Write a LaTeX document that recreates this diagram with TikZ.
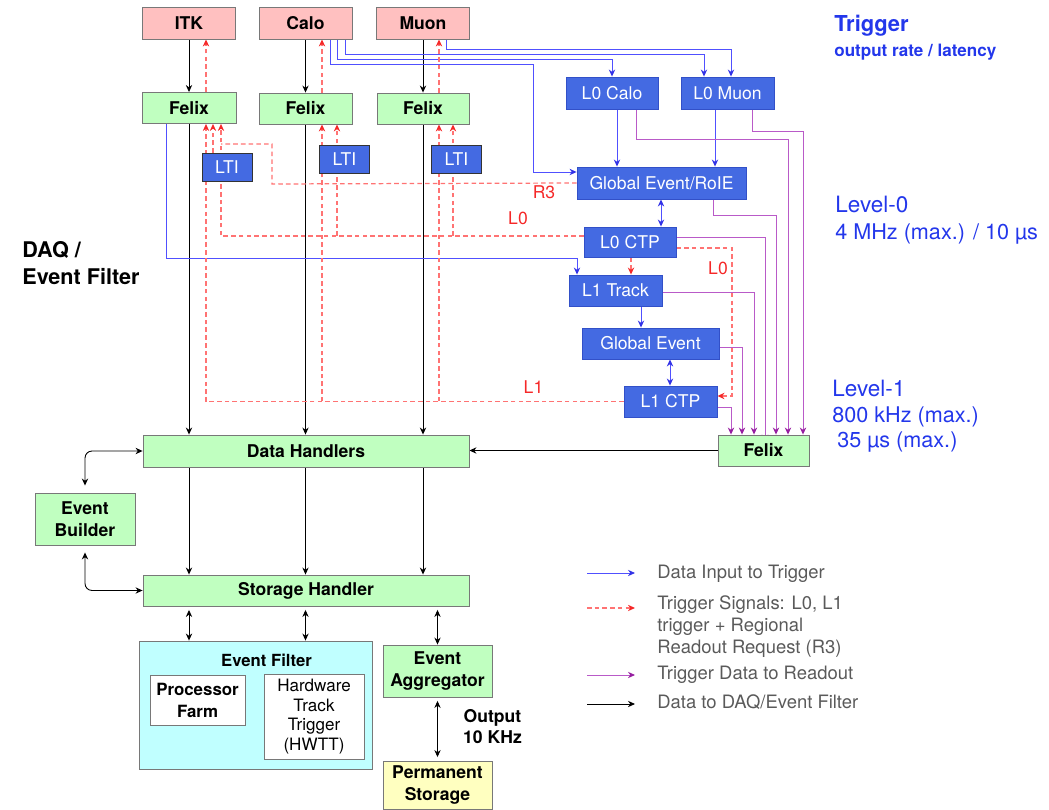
\documentclass[tikz,border=0pt]{standalone}
\usepackage{fontspec}
\setmainfont{TeX Gyre Heros}
\usetikzlibrary{arrows.meta,calc,backgrounds}
\definecolor{srcfill}{RGB}{255,192,192}
\definecolor{daqfill}{RGB}{192,255,192}
\definecolor{trigfill}{RGB}{68,106,226}
\definecolor{trigline}{RGB}{50,80,200}
\definecolor{filtfill}{RGB}{192,255,255}
\definecolor{storefill}{RGB}{255,255,192}
\definecolor{boxline}{RGB}{120,120,120}
\definecolor{datablue}{RGB}{80,80,255}
\definecolor{datatip}{RGB}{50,50,230}
\definecolor{sigred}{RGB}{255,115,115}
\definecolor{sigtip}{RGB}{245,40,40}
\definecolor{rdpurple}{RGB}{185,90,200}
\definecolor{rdtip}{RGB}{150,30,160}
\definecolor{lvlblue}{RGB}{35,55,235}
\definecolor{leggray}{RGB}{90,90,90}

\begin{document}
\begin{tikzpicture}[x=0.02cm, y=-0.02cm,
    every node/.style={inner sep=0pt},
    box/.style={draw=boxline, line width=0.5pt, minimum height=0.64cm, align=center},
    srcbox/.style={box, fill=srcfill, minimum width=1.86cm, font=\bfseries\fontsize{10}{12}\selectfont},
    daqbox/.style={box, fill=daqfill, font=\bfseries\fontsize{10}{12.5}\selectfont},
    trigbox/.style={box, draw=trigline, fill=trigfill, text=white, font=\fontsize{10}{12}\selectfont},
    ltibox/.style={trigbox, draw=black!80, minimum width=1cm, minimum height=0.56cm},
    siglabel/.style={text=sigtip, font=\fontsize{10}{12}\selectfont},
    lvltext/.style={anchor=base west, text=lvlblue, font=\fontsize{12.8}{15}\selectfont},
    legtext/.style={anchor=base west, text=leggray, font=\fontsize{10.5}{12.5}\selectfont},
    daqline/.style={draw=black, line width=0.5pt, -{Stealth[length=4pt,width=3.6pt]}},
    daqboth/.style={daqline, {Stealth[length=4pt,width=3.6pt]}-{Stealth[length=4pt,width=3.6pt]}},
    datain/.style={draw=datablue, line width=0.5pt, -{Stealth[length=4pt,width=3.6pt,color=datatip]}},
    databoth/.style={datain, {Stealth[length=4pt,width=3.6pt,color=datatip]}-{Stealth[length=4pt,width=3.6pt,color=datatip]}},
    sigline/.style={draw=sigred, line width=0.7pt, dash pattern=on 2.6pt off 1.8pt},
    trigsig/.style={sigline, -{Stealth[length=4pt,width=3.6pt,color=sigtip]}},
    trigdata/.style={draw=rdpurple, line width=0.5pt, -{Stealth[length=4pt,width=3.6pt,color=rdtip]}}]
\useasboundingbox (0,0) rectangle (1049,810);

% detectors and readout
\node[srcbox] (itk) at (189,23) {ITK};
\node[srcbox] (calo) at (305.5,23) {Calo};
\node[srcbox] (muon) at (423,23) {Muon};
\node[daqbox, minimum width=1.88cm, minimum height=0.62cm] (felixitk) at (189,108) {Felix};
\node[daqbox, minimum width=1.86cm, minimum height=0.62cm] (felixcalo) at (305.5,108.5) {Felix};
\node[daqbox, minimum width=1.84cm, minimum height=0.62cm] (felixmuon) at (423,108.5) {Felix};
\node[ltibox] (ltiitk) at (227,167) {LTI};
\node[ltibox] (lticalo) at (344.5,159) {LTI};
\node[ltibox] (ltimuon) at (456.5,159) {LTI};

% trigger
\node[trigbox, minimum width=1.84cm] (lzcalo) at (612,93) {L0 Calo};
\node[trigbox, minimum width=1.86cm] (lzmuon) at (727.5,93) {L0 Muon};
\node[trigbox, minimum width=3.38cm] (globroi) at (661.5,183) {Global Event/RoIE};
\node[trigbox, minimum width=1.84cm, minimum height=0.6cm] (lzctp) at (630,242) {L0 CTP};
\node[trigbox, minimum width=1.86cm, minimum height=0.62cm] (lotrack) at (615.5,290.5) {L1 Track};
\node[trigbox, minimum width=2.74cm, minimum height=0.62cm] (globev) at (650.5,343.5) {Global Event};
\node[trigbox, minimum width=1.86cm, minimum height=0.62cm] (loctp) at (670.5,401.5) {L1 CTP};
\node[daqbox, minimum width=1.82cm, minimum height=0.62cm] (felixtrig) at (763.5,450.5) {Felix};

% DAQ / event filter
\node[daqbox, minimum width=6.52cm] (datah) at (306,451) {Data Handlers};
\node[daqbox, minimum width=6.52cm, minimum height=0.62cm] (storeh) at (306,590.5) {Storage Handler};
\node[daqbox, minimum width=2cm, minimum height=1.04cm] (evbuild) at (85,519) {Event\\Builder};
\node[box, fill=filtfill, minimum width=4.66cm, minimum height=2.56cm] (evfilter) at (255.5,705) {};
\node[font=\bfseries\fontsize{9.5}{11.5}\selectfont] (eftitle) at (266.5,660) {Event Filter};
\node[box, fill=white, minimum width=1.9cm, minimum height=1cm, font=\bfseries\fontsize{9.6}{12.5}\selectfont] (procfarm) at (197.5,700) {Processor\\Farm};
\node[box, fill=white, minimum width=2cm, minimum height=1.7cm, font=\fontsize{9.7}{11.2}\selectfont] (hwtt) at (314,716.5) {Hardware\\Track\\Trigger\\(HWTT)};
\node[daqbox, minimum width=2.18cm, minimum height=1.04cm] (evaggr) at (437.5,671) {Event\\Aggregator};
\node[box, fill=storefill, minimum width=2.18cm, minimum height=0.96cm, font=\bfseries\fontsize{10}{12.5}\selectfont] (permstore) at (437.5,785) {Permanent\\Storage};
\node[align=center, font=\bfseries\fontsize{10}{12}\selectfont] (output) at (492.5,727) {Output\\10 KHz};

% side labels
\node[anchor=base west, text=lvlblue, font=\bfseries\fontsize{12.5}{15}\selectfont] (trigtitle) at (834,32) {Trigger};
\node[anchor=base west, text=lvlblue, font=\bfseries\fontsize{9.7}{12}\selectfont] (trigsub) at (834,57) {output rate / latency};
\node[lvltext] (lvlzero) at (835,213) {Level-0};
\node[lvltext, font=\fontsize{12.3}{15}\selectfont] (lvlzerorate) at (835,240) {4 MHz (max.) / 10 µs};
\node[lvltext] (lvlone) at (832,397) {Level-1};
\node[lvltext, font=\fontsize{12.3}{15}\selectfont] (lvlonerate) at (832,423) {800 kHz (max.)};
\node[lvltext, font=\fontsize{12.3}{15}\selectfont] (lvlonelat) at (837,448) {35 µs (max.)};
\node[anchor=base west, font=\bfseries\fontsize{12.3}{15}\selectfont] (daqlabel) at (22,258) {DAQ /};
\node[anchor=base west, font=\bfseries\fontsize{12.3}{15}\selectfont] (daqlabelb) at (22,285) {Event Filter};
\node[siglabel] (rthree) at (544,192) {R3};
\node[siglabel] (lzlab) at (518,218) {L0};
\node[siglabel] (lzlabb) at (718,268) {L0};
\node[siglabel] (lolab) at (533.5,387) {L1};

\begin{scope}[on background layer]
% data to DAQ
\draw[daqline] (itk) -- (felixitk);
\draw[daqline] (calo) -- (felixcalo);
\draw[daqline] (muon) -- (felixmuon);
\draw[daqline] (felixitk.south) -- (felixitk.south |- datah.north);
\draw[daqline] (felixcalo.south) -- (felixcalo.south |- datah.north);
\draw[daqline] (felixmuon.south) -- (felixmuon.south |- datah.north);
\draw[daqline] (felixtrig.west) -- (felixtrig.west -| datah.east);
\draw[daqline] (datah.south -| felixitk) -- (storeh.north -| felixitk);
\draw[daqline] (datah.south -| felixcalo) -- (storeh.north -| felixcalo);
\draw[daqline] (datah.south -| felixmuon) -- (storeh.north -| felixmuon);
\draw[daqboth, rounded corners=4pt, shorten >=4pt] (datah.west) -| (evbuild.north);
\draw[daqboth, rounded corners=4pt, shorten <=4pt] (evbuild.south) |- (storeh.west);
\draw[daqboth, shorten <=2pt] (storeh.south -| felixitk) -- (evfilter.north -| felixitk);
\draw[daqboth, shorten <=2pt] (storeh.south -| felixcalo) -- (evfilter.north -| felixcalo);
\draw[daqboth, shorten <=2pt] (evaggr.north |- storeh.south) -- (evaggr.north);
\draw[daqboth, shorten <=2pt, shorten >=2pt] (evaggr) -- (permstore);
\draw[daqboth, rounded corners=4pt, shorten <=2pt] (procfarm.south) |- ($(hwtt.south west)+(0,-13)$);

% data input to trigger
\draw[datain] (calo.south -| 330,0) |- (533,64) |- (globroi.west |- 0,172);
\draw[datain] (calo.south -| 337,0) |- (lzcalo.north |- 0,59) -- (lzcalo.north);
\draw[datain] (calo.south -| 345,0) |- (704,54) -- (lzmuon.north -| 704,0);
\draw[datain] (muon.south -| 446,0) |- (731,49) -- (lzmuon.north -| 731,0);
\draw[datain] (lzcalo.south -| 617,0) -- (globroi.north -| 617,0);
\draw[datain] (lzmuon.south -| 715,0) -- (globroi.north -| 715,0);
\draw[databoth] (globroi.south -| 661,0) -- (lzctp.north -| 661,0);
\draw[datain] (felixitk.south -| 166,0) |- (577,258) -- (lotrack.north -| 577,0);
\draw[datain] (lotrack.south -| 641,0) -- (globev.north -| 641,0);
\draw[databoth] (globev.south -| 670,0) -- (loctp.north -| 670,0);

% trigger signals
\draw[trigsig] (felixitk.north -| 206,0) -- (itk.south -| 206,0);
\draw[trigsig] (felixcalo.north -| 322,0) -- (calo.south -| 322,0);
\draw[trigsig] (felixmuon.north -| 439,0) -- (muon.south -| 439,0);
\draw[trigsig] (loctp.west) -| (felixitk.south -| 206,0);
\draw[trigsig] (loctp.west -| 322,0) -- (felixcalo.south -| 322,0);
\draw[trigsig] (loctp.west -| 439,0) -- (felixmuon.south -| 439,0);
\coordinate (lzline) at ($(lzctp.west)+(0,-6)$);
\draw[trigsig] (lzline) -| (felixitk.south -| 221,0);
\draw[trigsig] (lzline -| 337,0) -- (felixcalo.south -| 337,0);
\draw[trigsig] (lzline -| 453,0) -- (felixmuon.south -| 453,0);
\draw[sigline] (globroi.west) -- (272,184) -- (272,144) -- (221,144);
\draw[trigsig] (ltiitk.north -| 213,0) -- (felixitk.south -| 213,0);
\draw[trigsig] (lzctp.south -| 631,0) -- (lotrack.north -| 631,0);
\draw[trigsig] (lzctp.east |- 0,248) -| (732,396) -- (loctp.east |- 0,396);

% trigger data to readout
\draw[trigdata] (lzcalo.south -| 636,0) |- (788,139) -- (felixtrig.north -| 788,0);
\draw[trigdata] (lzmuon.south -| 752,0) |- (803,131) -- (felixtrig.north -| 803,0);
\draw[trigdata] (globroi.south -| 713,0) |- (776,215) -- (felixtrig.north -| 776,0);
\draw[trigdata, shorten >=-4pt] (lzctp.east |- 0,237) -| (felixtrig.north -| 765,0);
\draw[trigdata] (lotrack.east |- 0,292) -| (felixtrig.north -| 754,0);
\draw[trigdata] (globev.east |- 0,347) -| (felixtrig.north -| 742,0);
\draw[trigdata] (loctp.east |- 0,407) -| (felixtrig.north -| 731,0);
\end{scope}

% legend
\coordinate (legina) at (587,573);
\coordinate (leginb) at (635,573);
\coordinate (legsiga) at (587,608);
\coordinate (legsigb) at (635,608);
\coordinate (legrda) at (587,675);
\coordinate (legrdb) at (635,675);
\coordinate (legdqa) at (587,704);
\coordinate (legdqb) at (635,704);
\draw[datain] (legina) -- (leginb);
\draw[trigsig] (legsiga) -- (legsigb);
\draw[trigdata] (legrda) -- (legrdb);
\draw[daqline] (legdqa) -- (legdqb);
\node[legtext] (legin) at (657,579) {Data Input to Trigger};
\node[legtext, anchor=north west, align=left] (legsig) at (657,595) {Trigger Signals: L0, L1\\trigger + Regional\\Readout Request (R3)};
\node[legtext] (legrd) at (657,680) {Trigger Data to Readout};
\node[legtext] (legdq) at (657,709) {Data to DAQ/Event Filter};
\end{tikzpicture}
\end{document}
